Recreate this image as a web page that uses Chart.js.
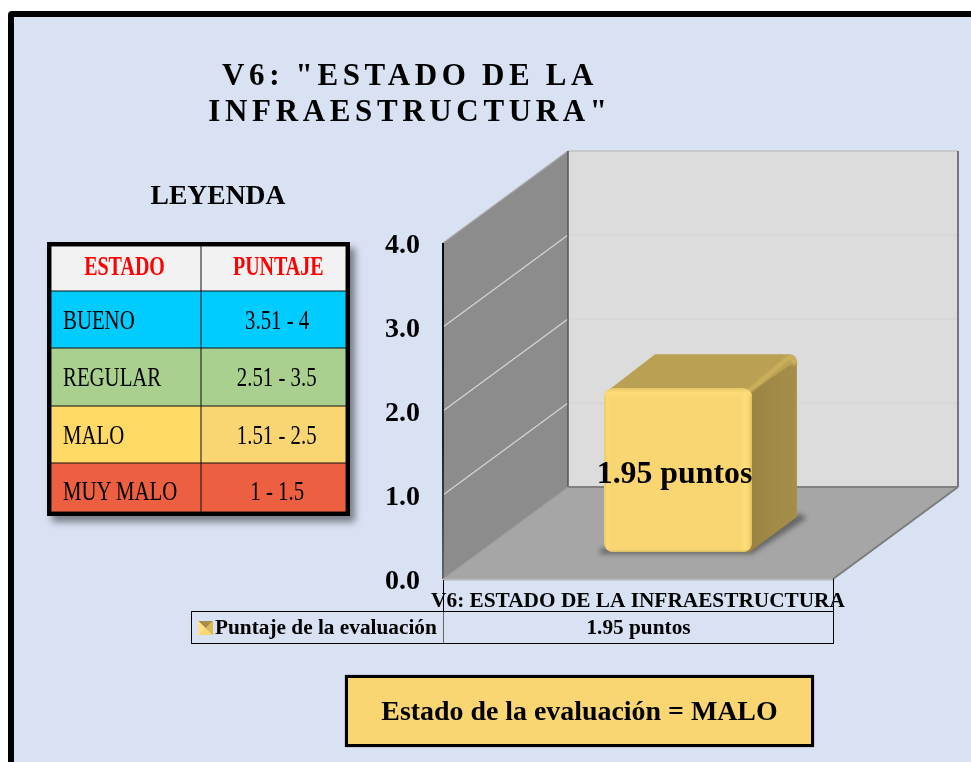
<!DOCTYPE html>
<html lang="es"><head><meta charset="utf-8">
<style>
html,body{margin:0;padding:0;background:#fff;width:971px;height:762px;overflow:hidden}
body{position:relative;font-family:"Liberation Serif",serif;color:#000}
#frame{position:absolute;left:8px;top:11px;width:1000px;height:800px;border:6px solid #000;border-radius:4px;background:#D9E2F3}
#c{position:absolute;left:0;top:0;width:971px;height:762px}
.abs{position:absolute}
#title{left:150px;top:57px;width:520px;text-align:center;font-weight:bold;font-size:31px;line-height:36px;letter-spacing:4.65px;word-spacing:-1px;white-space:pre-line}
#leyenda{left:118px;top:179px;width:200px;text-align:center;font-weight:bold;font-size:27.6px;line-height:32px}
#legend{left:47px;top:242px;width:295px;height:266px;border:4px solid #000;background:#000;box-shadow:5px 6px 7px rgba(0,0,0,.45);display:grid;grid-template-columns:150px 145px;grid-template-rows:45px 57px 58px 57px 49px}
#legend div{box-shadow:inset 0 0 0 .5px #111;display:flex;align-items:center;white-space:nowrap;overflow:visible;font-size:28px}
#legend div span{display:inline-block;transform:scaleX(.743);white-space:nowrap}
#legend .l{padding-left:12px;box-sizing:border-box}
#legend .l span{transform-origin:left center}
#legend .r{justify-content:center;padding-left:7px;box-sizing:border-box}
#legend .h{justify-content:center;color:#FF0000;font-weight:bold;background:#F2F2F2;font-size:27px}
#legend .h span{transform:translateY(-2px) scaleX(.74)}
#legend .last span{transform:translateY(3px) scaleX(.743)}
#dt{left:191px;top:611px;width:641px;height:31px;border:1px solid #000;display:grid;grid-template-columns:251px 390px;font-weight:bold}
#dt .k{display:flex;align-items:center;font-size:21.3px;white-space:nowrap;padding-left:6px;box-sizing:border-box}
#dt .v{display:flex;align-items:center;justify-content:center;font-size:21.3px;border-left:1px solid #666}
#key{display:inline-block;width:15px;height:14px;margin-right:2px;background:conic-gradient(from 45deg,#D8B95C 0 25%,#F6D873 25% 50%,#FCE08C 50% 75%,#A78F4A 75% 100%)}
#vline{left:833px;top:579px;width:1px;height:32px;background:#000}
#vline2{left:443px;top:580px;width:1px;height:31px;background:#000}
#state{left:345px;top:675px;width:463px;height:66px;border:3px solid #000;background:#FAD672;display:flex;align-items:center;justify-content:center;font-weight:bold;font-size:27.9px;box-shadow:0 0 1px #555}
</style></head>
<body>
<div id="frame"></div>
<canvas id="c" width="971" height="762"></canvas>
<div id="title" class="abs"></div>
<div id="leyenda" class="abs"></div>
<div id="legend" class="abs"></div>
<div id="vline" class="abs"></div>
<div id="vline2" class="abs"></div>
<div id="dt" class="abs"></div>
<div id="state" class="abs"></div>
<script src="https://cdn.jsdelivr.net/npm/chart.js@4/dist/chart.umd.min.js"></script>
<script>
const categories = ['V6: ESTADO DE LA INFRAESTRUCTURA'];
const seriesName = 'Puntaje de la evaluación';
const seriesValues = [1.95];
const valueUnit = 'puntos';
const yTicks = [0, 1, 2, 3, 4];
const titleText = 'V6: "ESTADO DE LA\nINFRAESTRUCTURA"';
const legendTitle = 'LEYENDA';
const legendHeader = ['ESTADO', 'PUNTAJE'];
const legendStates = ['BUENO', 'REGULAR', 'MALO', 'MUY MALO'];
const legendScores = ['3.51 - 4', '2.51 - 3.5', '1.51 - 2.5', '1 - 1.5'];
const legendLeftColors = ['#00CCFF', '#A9D08E', '#FFD966', '#EC5F40'];
const legendRightColors = ['#00CCFF', '#A9D08E', '#FAD672', '#EC5F40'];
const stateText = 'Estado de la evaluación = MALO';

// page text
document.getElementById('title').textContent = titleText;
document.getElementById('leyenda').textContent = legendTitle;
document.getElementById('state').textContent = stateText;
const lg = document.getElementById('legend');
function cell(cls, txt, bg){
  const d = document.createElement('div'); d.className = cls;
  if (bg) d.style.background = bg;
  const s = document.createElement('span'); s.textContent = txt; d.appendChild(s); lg.appendChild(d);
}
legendHeader.forEach((h,i) => { cell('h', h); lg.lastChild.style.paddingLeft = i ? '9px' : '0'; lg.lastChild.style.boxSizing='border-box'; if(!i) lg.lastChild.style.paddingRight='3px'; });
legendStates.forEach((s, i) => {
  const last = i === legendStates.length-1 ? ' last' : '';
  cell('l'+last, s, legendLeftColors[i]); cell('r'+last, legendScores[i], legendRightColors[i]);
});
const dt = document.getElementById('dt');
dt.innerHTML = '<div class="k"><span id="key"></span><span id="kt"></span></div><div class="v" id="vt"></div>';
document.getElementById('kt').textContent = seriesName;
document.getElementById('vt').textContent = seriesValues[0].toFixed(2) + ' ' + valueUnit;

// 3D look
const WALL = {dx:125, dy:-92};
const PLANE = {dx:40, dy:-27};
const BAR = {dx:45, dy:-34};
function poly(ctx, pts, fill){
  ctx.beginPath(); pts.forEach((p,i)=> i?ctx.lineTo(p[0],p[1]):ctx.moveTo(p[0],p[1])); ctx.closePath();
  if (fill){ ctx.fillStyle = fill; ctx.fill(); }
}
function line(ctx, a, b, color, w){
  ctx.beginPath(); ctx.moveTo(a[0],a[1]); ctx.lineTo(b[0],b[1]); ctx.strokeStyle=color; ctx.lineWidth=w; ctx.stroke();
}
const scene = {
  id:'scene',
  beforeDatasetsDraw(chart){
    const {ctx, chartArea:{left:l,right:r}, scales:{y}} = chart;
    const b = y.getPixelForValue(yTicks[0]), t = y.getPixelForValue(yTicks[yTicks.length-1]);
    const {dx,dy} = WALL;
    ctx.save();
    poly(ctx, [[l+dx,t+dy],[r+dx,t+dy],[r+dx,b+dy],[l+dx,b+dy]], '#DCDCDC');
    poly(ctx, [[l,t],[l+dx,t+dy],[l+dx,b+dy],[l,b]], '#8C8C8C');
    poly(ctx, [[l,b],[l+dx,b+dy],[r+dx,b+dy],[r,b]], '#A6A6A6');
    yTicks.slice(1,-1).forEach(v=>{
      const p = y.getPixelForValue(v);
      line(ctx,[l,p],[l+dx,p+dy],'#D4D4D4',1.3);
      line(ctx,[l+dx,p+dy],[r+dx,p+dy],'#D2D2D2',1.2);
    });
    line(ctx,[l,t],[l+dx,t+dy],'#A8A8A8',1.2);
    line(ctx,[l+dx,t+dy],[r+dx,t+dy],'#B4B4B4',1.2);
    line(ctx,[l+dx,t+dy],[l+dx,b+dy],'#555',1.5);
    line(ctx,[r+dx,t+dy],[r+dx,b+dy],'#555',1.5);
    line(ctx,[l+dx,b+dy],[r+dx,b+dy],'#837E80',2);
    const lg2 = ctx.createLinearGradient(0,t,0,b);
    lg2.addColorStop(0,'#0a0a0a'); lg2.addColorStop(.6,'#222'); lg2.addColorStop(1,'#666');
    line(ctx,[l,t],[l,b],lg2,2);
    line(ctx,[l,b],[l+dx,b+dy],'#999',1.2);
    line(ctx,[l,b+.5],[r,b+.5],'#B6B6B6',2);
    line(ctx,[r,b],[r+dx,b+dy],'#7C7C7C',2);
    ctx.restore();

    // bar depth faces, from the bar element itself
    ctx.save();
    ctx.translate(PLANE.dx, PLANE.dy);
    const el = chart.getDatasetMeta(0).data[0];
    const L = el.x-el.width/2, R = el.x+el.width/2, T = el.y, B = el.base;
    const bx = BAR.dx, by = BAR.dy;
    ctx.save();
    ctx.filter = 'blur(2.5px)';
    poly(ctx, [[L-4,B-3],[L-4,B+2],[R,B+2],[R+bx+10,B+by],[R+bx+4,B+by-4]], 'rgba(60,60,60,.6)');
    ctx.restore();
    // top face
    ctx.beginPath();
    ctx.moveTo(L+3,T+3); ctx.lineTo(L+bx+6,T+by);
    ctx.lineTo(R+bx-9,T+by); ctx.quadraticCurveTo(R+bx,T+by,R+bx,T+by+9);
    ctx.lineTo(R-2,T+8); ctx.closePath(); ctx.fillStyle='#BAA052'; ctx.fill();
    // side face
    const sg = ctx.createLinearGradient(R-4,0,R+bx,0);
    sg.addColorStop(0,'#9A8343'); sg.addColorStop(.6,'#A28A47'); sg.addColorStop(1,'#A58D4A');
    poly(ctx, [[R-5,T+6],[R+bx-1,T+by+7],[R+bx,T+by+9],[R+bx,B+by-1],[R-5,B+2]], sg);
    // soft highlight on the rounded edge
    ctx.save();
    ctx.filter='blur(1px)'; ctx.lineCap='round';
    ctx.beginPath(); ctx.moveTo(R-4,T+4); ctx.lineTo(R+bx-8,T+by+3); ctx.quadraticCurveTo(R+bx-3,T+by+3,R+bx-2.5,T+by+9);
    ctx.strokeStyle='#CBB05D'; ctx.lineWidth=4.5; ctx.stroke();
    ctx.restore();
    ctx.restore();

    ctx.save();
    ctx.translate(PLANE.dx, PLANE.dy);
  },
  afterDatasetsDraw(chart){
    const {ctx} = chart;
    const el = chart.getDatasetMeta(0).data[0];
    const L = el.x-el.width/2, R = el.x+el.width/2, T = el.y, B = el.base;
    // bevel on the front face
    ctx.save();
    ctx.beginPath(); ctx.roundRect(L,T,R-L,B-T,9); ctx.clip();
    let g = ctx.createLinearGradient(L,0,L+7,0);
    g.addColorStop(0,'#EBC966'); g.addColorStop(.5,'#FDDB74'); g.addColorStop(1,'rgba(250,214,114,0)');
    ctx.fillStyle=g; ctx.fillRect(L,T,7,B-T);
    g = ctx.createLinearGradient(R-14,0,R,0);
    g.addColorStop(0,'rgba(250,214,114,0)'); g.addColorStop(.5,'#FFE07C'); g.addColorStop(.8,'#F8D56E'); g.addColorStop(1,'#DDBB5E');
    ctx.fillStyle=g; ctx.fillRect(R-14,T,14,B-T);
    g = ctx.createLinearGradient(0,T,0,T+10);
    g.addColorStop(0,'#E6C565'); g.addColorStop(.45,'#FEDD78'); g.addColorStop(1,'rgba(250,214,114,0)');
    ctx.fillStyle=g; ctx.fillRect(L,T,R-L,10);
    g = ctx.createLinearGradient(0,B-4,0,B);
    g.addColorStop(0,'rgba(250,214,114,0)'); g.addColorStop(1,'#D8BA60');
    ctx.fillStyle=g; ctx.fillRect(L,B-4,R-L,4);
    ctx.restore();
    // value label
    ctx.fillStyle='#000';
    ctx.font='bold 31.8px "Liberation Serif"';
    ctx.textAlign='center'; ctx.textBaseline='middle';
    ctx.fillText(seriesValues[0].toFixed(2)+' '+valueUnit, el.x-3.5, (T+B)/2+5);
    ctx.restore();
  }
};

new Chart(document.getElementById('c'), {
  type:'bar',
  data:{labels:categories, datasets:[{
    label:seriesName, data:seriesValues, backgroundColor:'#FAD672',
    borderRadius:9, borderSkipped:false, barPercentage:.379, categoryPercentage:1
  }]},
  options:{
    responsive:false, animation:false, events:[],
    layout:{padding:{left:0,right:138,top:243,bottom:0}},
    plugins:{legend:{display:false},title:{display:false},tooltip:{enabled:false}},
    scales:{
      x:{
        grid:{display:false}, border:{display:false},
        ticks:{autoSkip:false,maxRotation:0,minRotation:0,padding:2,color:'#000',font:{family:'"Liberation Serif"',weight:'bold',size:21.3}},
        afterFit(s){ s.height=183; s.paddingLeft=0; s.paddingRight=0; }
      },
      y:{
        min:0,max:4,
        grid:{display:false}, border:{display:false},
        ticks:{stepSize:1,padding:15,labelOffset:3,color:'#000',font:{family:'"Liberation Serif"',weight:'bold',size:28},callback:v=>v.toFixed(1)},
        afterFit(s){ s.width=443; s.paddingTop=0; s.paddingBottom=0; }
      }
    }
  },
  plugins:[scene]
});
</script>
</body></html>
